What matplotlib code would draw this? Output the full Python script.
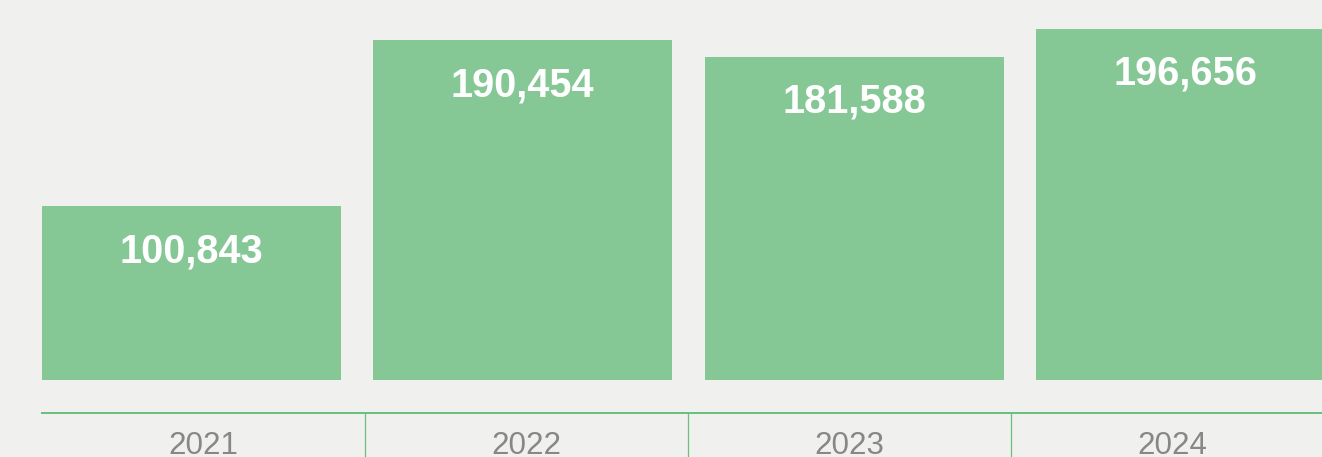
import matplotlib
matplotlib.use("Agg")
import matplotlib.pyplot as plt

years = ["2021", "2022", "2023", "2024"]
values = [100843, 190454, 181588, 196656]

W, H = 1322, 457
BG = "#f0f0ee"
BAR = "#85c896"
LINE = "#6dbf7e"

plt.rcParams['font.family'] = ['Liberation Sans', 'DejaVu Sans']

fig = plt.figure(figsize=(W / 100, H / 100), dpi=100, facecolor=BG)

# Bars axes
left = 42 / W
bar_bottom_px = 379.5
ax = fig.add_axes([left, (H - bar_bottom_px) / H, (W - 42) / W, bar_bottom_px / H])
ax.set_facecolor(BG)
xs = list(range(len(values)))
ax.bar(xs, values, width=0.9025, align='edge', color=BAR, linewidth=0)
ax.set_xlim(0, 1280 / 331.3)
ax.set_ylim(7400, 212291)
for x, v in zip(xs, values):
    ax.annotate(f"{v:,}", (x + 0.9025 / 2, v), xytext=(0, -26), textcoords='offset pixels',
                ha='center', va='top', color='white', fontsize=28.6, fontweight='bold')
ax.axis('off')

# Category strip
ax2 = fig.add_axes([left, 0, 1292 / W, (H - 413) / H])
ax2.set_facecolor(BG)
ax2.patch.set_alpha(0)
ax2.set_xlim(0, len(years))
ax2.set_ylim(0, 1)
for s in ['left', 'right', 'bottom']:
    ax2.spines[s].set_visible(False)
ax2.spines['top'].set_color(LINE)
ax2.spines['top'].set_linewidth(1.44)
ax2.set_xticks([])
ax2.set_yticks([])
for i in range(1, len(years)):
    ax2.axvline(i, color=LINE, linewidth=0.9)
for i, y in enumerate(years):
    ax2.text(i + 0.5, 3 / 44, y, ha='center', va='baseline', color='#878787', fontsize=22.6,
             transform=ax2.transData)

fig.savefig("out.png", dpi=100, facecolor=BG)
